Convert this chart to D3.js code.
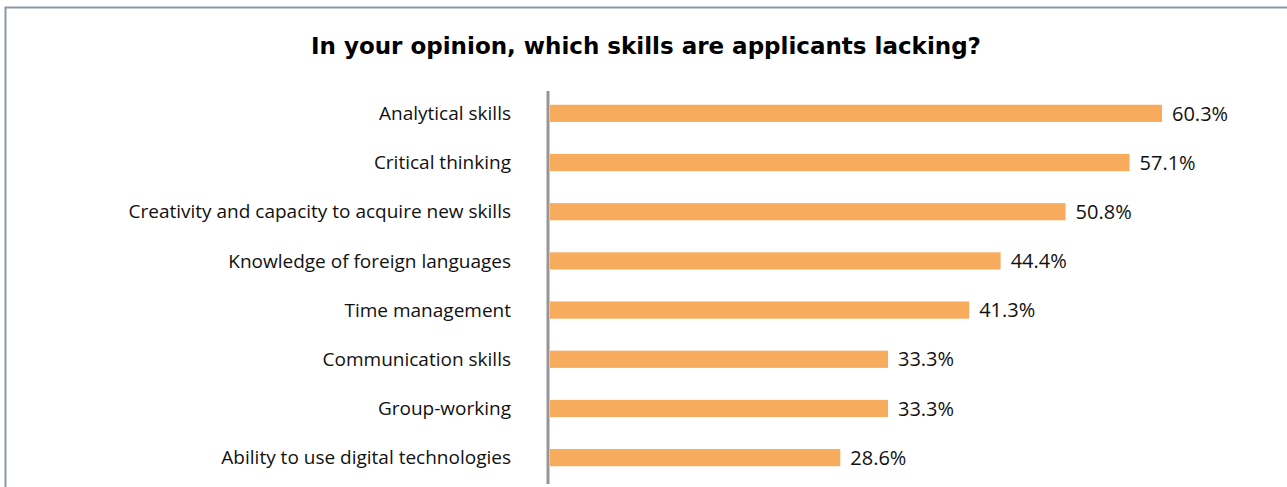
<!DOCTYPE html>
<html>
<head>
<meta charset="utf-8">
<script src="https://cdn.jsdelivr.net/npm/d3@7"></script>
<style>
  html, body { margin: 0; padding: 0; background: #fff; }
  svg { display: block; }
</style>
</head>
<body>
<svg id="chart" width="1287" height="487"></svg>
<script>
// Survey answers: skills employers find missing in applicants (% of respondents)
const skills = [
  "Analytical skills",
  "Critical thinking",
  "Creativity and capacity to acquire new skills",
  "Knowledge of foreign languages",
  "Time management",
  "Communication skills",
  "Group-working",
  "Ability to use digital technologies"
];
const shares = [60.3, 57.1, 50.8, 44.4, 41.3, 33.3, 33.3, 28.6];
const titleText = "In your opinion, which skills are applicants lacking?";

const W = 1287, H = 487;
const svg = d3.select("#chart");

// frame (top and left edges)
svg.append("path")
  .attr("d", `M5.5,${H} V7.5 H${W}`)
  .attr("fill", "none")
  .attr("stroke", "#8b97a5")
  .attr("stroke-width", 2);

svg.append("text")
  .attr("x", 646)
  .attr("y", 54)
  .attr("text-anchor", "middle")
  .attr("font-family", "'DejaVu Sans', Verdana, sans-serif")
  .attr("font-weight", "bold")
  .attr("font-size", 23)
  .attr("fill", "#000")
  .text(titleText);

const x = d3.scaleLinear().domain([0, 60.3]).range([550, 1162]);
const y = d3.scaleBand().domain(skills).range([89, 482]).paddingInner(0.65).paddingOuter(0.32);

// bars
svg.append("g").selectAll("rect")
  .data(skills)
  .join("rect")
  .attr("x", x(0))
  .attr("y", d => y(d))
  .attr("width", (d, i) => x(shares[i]) - x(0))
  .attr("height", y.bandwidth())
  .attr("fill", "#f7ac5d");

// category axis
const axis = svg.append("g")
  .attr("transform", `translate(${x(0) - 2},0)`)
  .call(d3.axisLeft(y).tickSize(0).tickPadding(37));
axis.select(".domain")
  .attr("d", "M0,91V484")
  .attr("stroke", "#96969a")
  .attr("stroke-width", 3);
axis.selectAll("text")
  .attr("font-family", "'Open Sans', 'Noto Sans', sans-serif")
  .attr("font-size", 19)
  .attr("fill", "#111")
  .attr("dy", "0.35em");

// value labels
svg.append("g").selectAll("text")
  .data(skills)
  .join("text")
  .attr("x", (d, i) => x(shares[i]) + 10)
  .attr("y", d => y(d) + y.bandwidth() / 2)
  .attr("dy", "0.36em")
  .attr("font-family", "'Open Sans', 'Noto Sans', sans-serif")
  .attr("font-size", 20)
  .attr("fill", "#111")
  .text((d, i) => shares[i].toFixed(1) + "%");
</script>
</body>
</html>
